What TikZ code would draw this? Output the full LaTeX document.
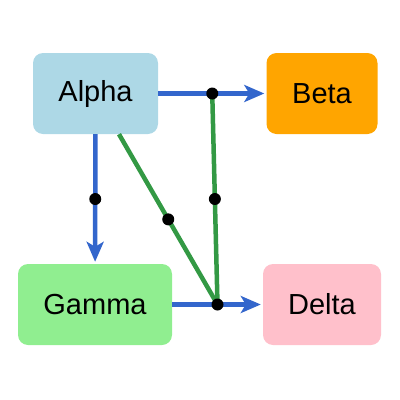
\documentclass[tikz,border=0pt]{standalone}
\usepackage{fontspec}
\setmainfont{Liberation Sans}
\usetikzlibrary{arrows.meta}
\definecolor{edgeblue}{RGB}{51,102,204}
\definecolor{edgegreen}{RGB}{51,153,68}
\definecolor{alphacol}{RGB}{173,216,230}
\definecolor{betacol}{RGB}{255,165,0}
\definecolor{gammacol}{RGB}{144,238,144}
\definecolor{deltacol}{RGB}{255,192,203}
\begin{document}
\begin{tikzpicture}[x=1pt,y=-1pt,
  box/.style={rounded corners=10pt, inner sep=0pt, minimum height=81pt,
    font=\fontsize{29}{34}\selectfont, text=black},
  bluearrow/.style={draw=edgeblue, line width=4.5pt,
    -{Stealth[length=20pt,width=17pt,inset=5pt]}, shorten >=2pt},
  greenline/.style={draw=edgegreen, line width=4.5pt},
  dotmark/.style={circle, fill=black, inner sep=0pt, minimum size=12pt}]
\useasboundingbox (0,0) rectangle (400,400);
\node[box, fill=alphacol, minimum width=125pt] (Alpha) at (95.5,93.5) {Alpha};
\node[box, fill=betacol, minimum width=111pt] (Beta) at (322,93.5) {Beta};
\node[box, fill=gammacol, minimum width=154pt] (Gamma) at (95,304.5) {Gamma};
\node[box, fill=deltacol, minimum width=118pt] (Delta) at (322,304.5) {Delta};
% coordinates at the middles of the blue edges
\path (Alpha.east) -- coordinate (ab) (Beta.west);
\path (Gamma.east) -- coordinate (gd) (Delta.west);
\path (Alpha.south) -- coordinate (ag) (Gamma.north);
% green lines
\draw[greenline] (Alpha) -- coordinate (amid) (gd);
\draw[greenline] (ab) -- coordinate (abmid) (gd);
% blue arrows
\draw[bluearrow] (Alpha) -- (Beta);
\draw[bluearrow] (Alpha) -- (Gamma);
\draw[bluearrow] (Gamma) -- (Delta);
% dots
\node[dotmark] (d1) at (ab) {};
\node[dotmark] (d2) at (gd) {};
\node[dotmark] (d3) at (ag) {};
\node[dotmark] (d4) at (amid) {};
\node[dotmark] (d5) at (abmid) {};
\end{tikzpicture}
\end{document}
